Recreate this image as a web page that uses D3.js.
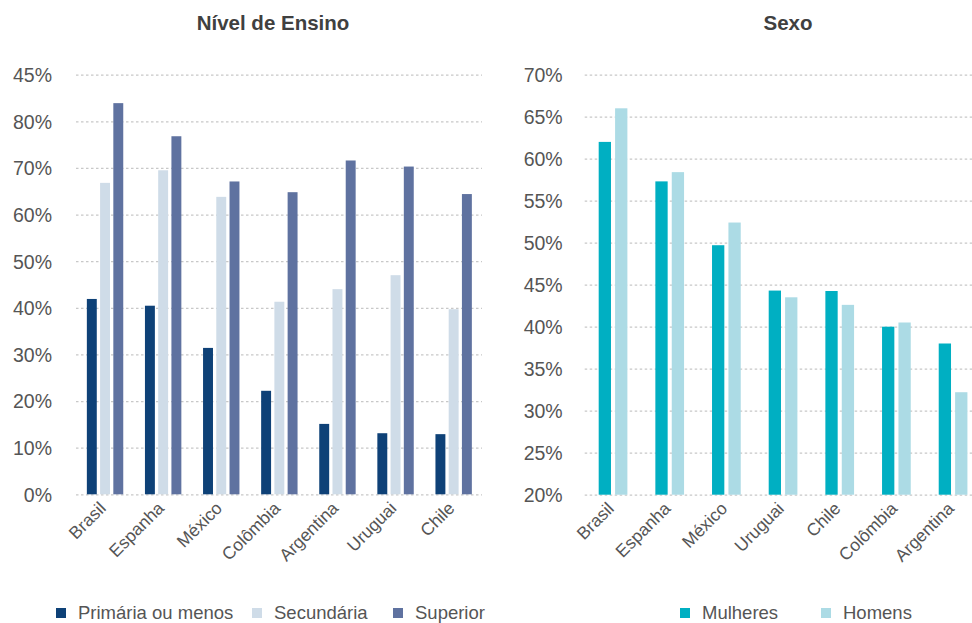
<!DOCTYPE html>
<html><head><meta charset="utf-8">
<script src="https://cdn.jsdelivr.net/npm/d3@7"></script>
<style>
body{margin:0;background:#fff;}
text{font-family:"Liberation Sans",Arial,sans-serif;}
</style></head>
<body><svg id="c" width="972" height="623"></svg>
<script>
// Left chart: Nível de Ensino
const eduCountries = ["Brasil","Espanha","México","Colômbia","Argentina","Uruguai","Chile"];
const eduSeries = ["Primária ou menos","Secundária","Superior"];
const primaria = [41.9,40.45,31.4,22.2,15.1,13.1,12.9];
const secundaria = [66.8,69.5,63.8,41.3,44.0,47.0,39.7];
const superior = [83.9,76.8,67.1,64.8,71.6,70.3,64.4];
const eduTickValues = [0,10,20,30,40,50,60,70,80,90];
const eduTickLabels = ["0%","10%","20%","30%","40%","50%","60%","70%","80%","45%"];
const eduColors = ["#0e4177","#cfdce8","#5f72a0"];

// Right chart: Sexo
const sexCountries = ["Brasil","Espanha","México","Uruguai","Chile","Colômbia","Argentina"];
const sexSeries = ["Mulheres","Homens"];
const mulheres = [62.0,57.3,49.7,44.3,44.25,40.0,38.0];
const homens = [66.0,58.4,52.4,43.5,42.6,40.5,32.2];
const sexTickValues = [20,25,30,35,40,45,50,55,60,65,70];
const sexTickLabels = ["20%","25%","30%","35%","40%","45%","50%","55%","60%","65%","70%"];
const sexColors = ["#00afc2","#acdbe5"];

const svg = d3.select("#c");

function drawChart(cfg){
  const g = svg.append("g");
  const x = d3.scaleBand().domain(cfg.cats).range(cfg.xr).paddingInner(0).paddingOuter(0);
  const y = d3.scaleLinear().domain(cfg.yd).range(cfg.yr);
  // title
  g.append("text").attr("x",cfg.titleX).attr("y",30).attr("text-anchor","middle")
    .attr("font-size",20.5).attr("font-weight","bold").attr("fill","#404040").text(cfg.title);
  // grid + y labels via axis
  const yAxis = d3.axisLeft(y).tickValues(cfg.tickValues)
    .tickFormat((d,i)=>cfg.tickLabels[i]).tickSize(-(cfg.gridEnd-cfg.xr[0])).tickPadding(cfg.labelPad);
  const ya = g.append("g").attr("transform",`translate(${cfg.xr[0]},0)`).call(yAxis);
  ya.select(".domain").remove();
  ya.selectAll(".tick line").attr("stroke","#c8c8c8").attr("stroke-width",1.2).attr("stroke-dasharray","2.5,2.5");
  ya.selectAll(".tick text").attr("font-size",19.5).attr("fill","#555").attr("font-family","Liberation Sans, Arial, sans-serif").attr("dy","0.35em");
  // bars
  const sub = d3.scaleBand().domain(cfg.series.map((s,i)=>i)).range([0,cfg.groupW]).paddingInner(cfg.subPad);
  const gx = x.bandwidth()/2 - cfg.groupW/2;
  cfg.series.forEach((vals,si)=>{
    g.append("g").selectAll("rect").data(vals).join("rect")
      .attr("x",(d,i)=>x(cfg.cats[i])+gx+sub(si))
      .attr("width",sub.bandwidth())
      .attr("y",d=>y(d))
      .attr("height",d=>y(cfg.yd[0])-y(d))
      .attr("fill",cfg.colors[si]);
  });
  // x labels
  const xAxis = d3.axisBottom(x).tickSize(0).tickPadding(0);
  const xa = g.append("g").attr("transform",`translate(0,${cfg.yr[0]})`).call(xAxis);
  xa.select(".domain").remove();
  xa.selectAll(".tick text").attr("font-size",17.5).attr("fill","#555")
    .attr("font-family","Liberation Sans, Arial, sans-serif")
    .attr("text-anchor","end").attr("dy",null)
    .attr("transform","translate(2,15) rotate(-45)");
  // legend
  const lg = g.append("g");
  cfg.legend.forEach((l,i)=>{
    lg.append("rect").attr("x",l.x).attr("y",608).attr("width",10).attr("height",10).attr("fill",cfg.colors[i]);
    lg.append("text").attr("x",l.x+22).attr("y",619).attr("font-size",18.5).attr("fill","#555").text(l.name);
  });
}

drawChart({
  title:"Nível de Ensino", titleX:273,
  cats:eduCountries, xr:[76,482.7], gridEnd:482, yd:[0,90], yr:[494.3,74.7],
  tickValues:eduTickValues, tickLabels:eduTickLabels, labelPad:24,
  series:[primaria,secundaria,superior], colors:eduColors,
  groupW:36.4, subPad:0.25,
  legend:[{x:56,name:eduSeries[0]},{x:252,name:eduSeries[1]},{x:393,name:eduSeries[2]}]
});
drawChart({
  title:"Sexo", titleX:788,
  cats:sexCountries, xr:[584.7,981.4], gridEnd:972, yd:[20,70], yr:[494.7,74.7],
  tickValues:sexTickValues, tickLabels:sexTickLabels, labelPad:22,
  series:[mulheres,homens], colors:sexColors,
  groupW:28.7, subPad:0.25,
  legend:[{x:680,name:sexSeries[0]},{x:821,name:sexSeries[1]}]
});
</script></body></html>
